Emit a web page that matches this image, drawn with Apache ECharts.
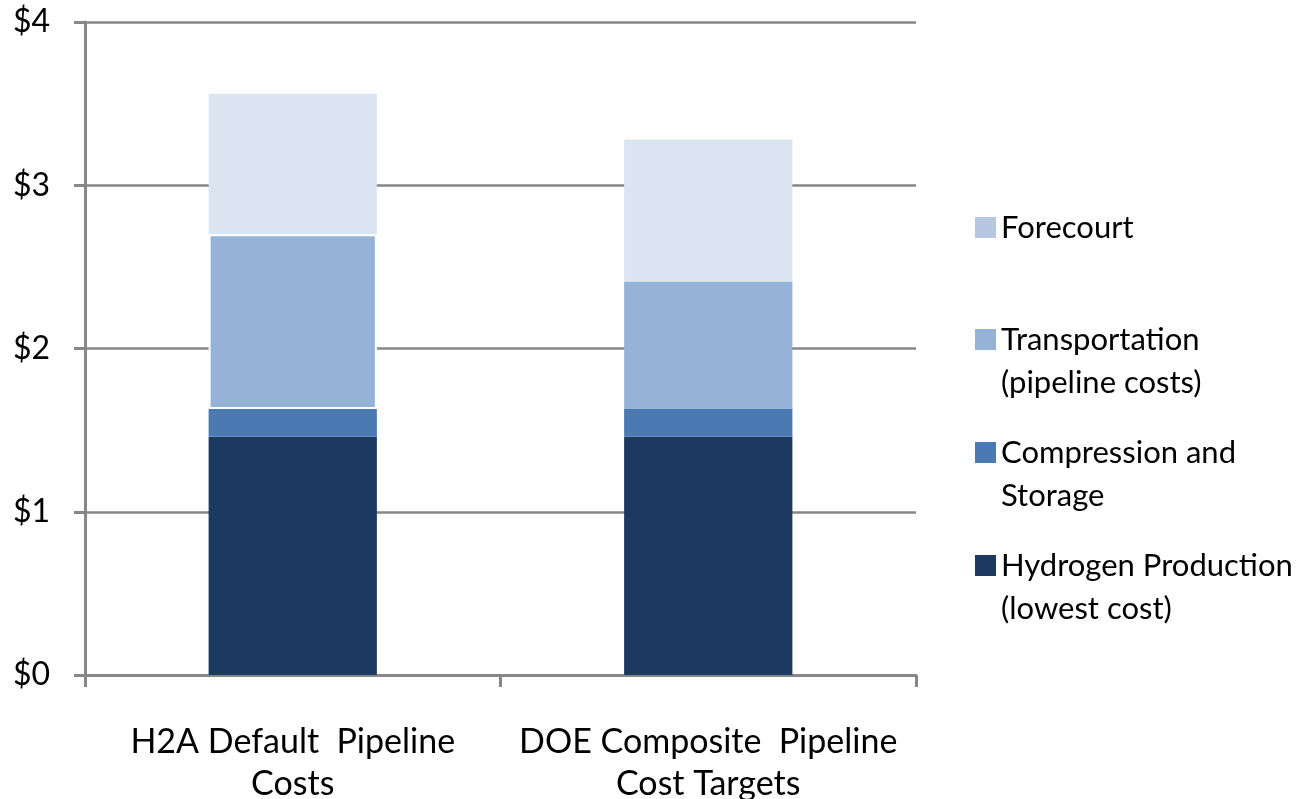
<!DOCTYPE html>
<html>
<head>
<meta charset="utf-8">
<script src="https://cdn.jsdelivr.net/npm/echarts@6/dist/echarts.min.js"></script>
<style>
  html, body { margin: 0; padding: 0; background: #fff; overflow: hidden; }
  #chart { width: 1298px; height: 799px; }
</style>
</head>
<body>
<div id="chart"></div>
<script>
// Delivered hydrogen cost, $/kg, by component
const categories = ['H2A Default  Pipeline\nCosts', 'DOE Composite  Pipeline\nCost Targets'];
const seriesNames = [
  'Hydrogen Production\n(lowest cost)',
  'Compression and\nStorage',
  'Transportation\n(pipeline costs)',
  'Forecourt'
];
const hydrogenProduction = [1.46, 1.46];
const compressionStorage = [0.17, 0.17];
const transportation = [1.07, 0.78];
const forecourt = [0.86, 0.87];
const yTicks = { min: 0, max: 4, interval: 1 };

const colors = ['#1C3A5F', '#4A7AB1', '#95B3D7', '#DBE5F1'];
const legendColors = ['#1C3A5F', '#4A7AB1', '#95B3D7', '#B7C7E1'];
const fontFamily = 'Lato, "Open Sans", sans-serif';
const axisGray = '#878787';
const LINE = 43;

const values = [hydrogenProduction, compressionStorage, transportation, forecourt];

const series = seriesNames.map((name, i) => ({
  name: name,
  type: 'bar',
  stack: 'cost',
  barWidth: '40.5%',
  itemStyle: { color: colors[i] },
  data: values[i].map((v, j) => {
    // thin white seam under the forecourt block of the first bar
    if (i === 2 && j === 0) {
      return { value: v, itemStyle: { borderColor: '#ffffff', borderWidth: 2 } };
    }
    return v;
  })
}));

// Legend swatch: a 21px square sitting level with the first text line
function swatch(color, lines) {
  const h = LINE * lines;
  const y = (LINE - 21) / 2;
  const svg = '<svg xmlns="http://www.w3.org/2000/svg" width="21" height="' + h +
    '" viewBox="0 0 21 ' + h + '"><rect x="0" y="' + y + '" width="21" height="21" fill="' +
    color + '"/></svg>';
  return 'image://data:image/svg+xml;charset=utf-8,' + encodeURIComponent(svg);
}

// one legend per entry, listed top-down from Forecourt
const legendTops = [206, 318, 431, 544];
const legendOrder = [3, 2, 1, 0];
const legends = legendOrder.map((si, k) => {
  const lines = seriesNames[si].split('\n').length;
  return {
    orient: 'vertical',
    left: 975,
    top: legendTops[k],
    padding: 0,
    itemWidth: 21,
    itemHeight: LINE * lines,
    selectedMode: false,
    data: [{ name: seriesNames[si], icon: swatch(legendColors[si], lines) }],
    textStyle: {
      fontFamily: fontFamily,
      fontSize: 31,
      lineHeight: LINE,
      color: '#000'
    }
  };
});

const chart = echarts.init(document.getElementById('chart'), null, { width: 1298, height: 799 });
chart.setOption({
  animation: false,
  backgroundColor: '#ffffff',
  grid: {
    left: 85, right: 382, top: 22, height: 653,
    containLabel: false,
    outerBoundsMode: 'none'
  },
  legend: legends,
  xAxis: {
    type: 'category',
    data: categories,
    axisLine: { lineStyle: { color: axisGray, width: 3 } },
    axisTick: { show: true, length: 12, lineStyle: { color: axisGray, width: 3 } },
    axisLabel: {
      interval: 0,
      margin: 46,
      fontFamily: fontFamily,
      fontSize: 34,
      lineHeight: 42,
      color: '#000'
    }
  },
  yAxis: {
    type: 'value',
    min: yTicks.min,
    max: yTicks.max,
    interval: yTicks.interval,
    axisLine: { show: true, lineStyle: { color: axisGray, width: 3 } },
    axisTick: { show: true, length: 11, lineStyle: { color: axisGray, width: 3 } },
    splitLine: { lineStyle: { color: axisGray, width: 2.5 } },
    axisLabel: {
      margin: 35,
      fontFamily: fontFamily,
      fontSize: 32,
      color: '#000',
      formatter: v => '$' + v
    }
  },
  series: series
});
</script>
</body>
</html>
